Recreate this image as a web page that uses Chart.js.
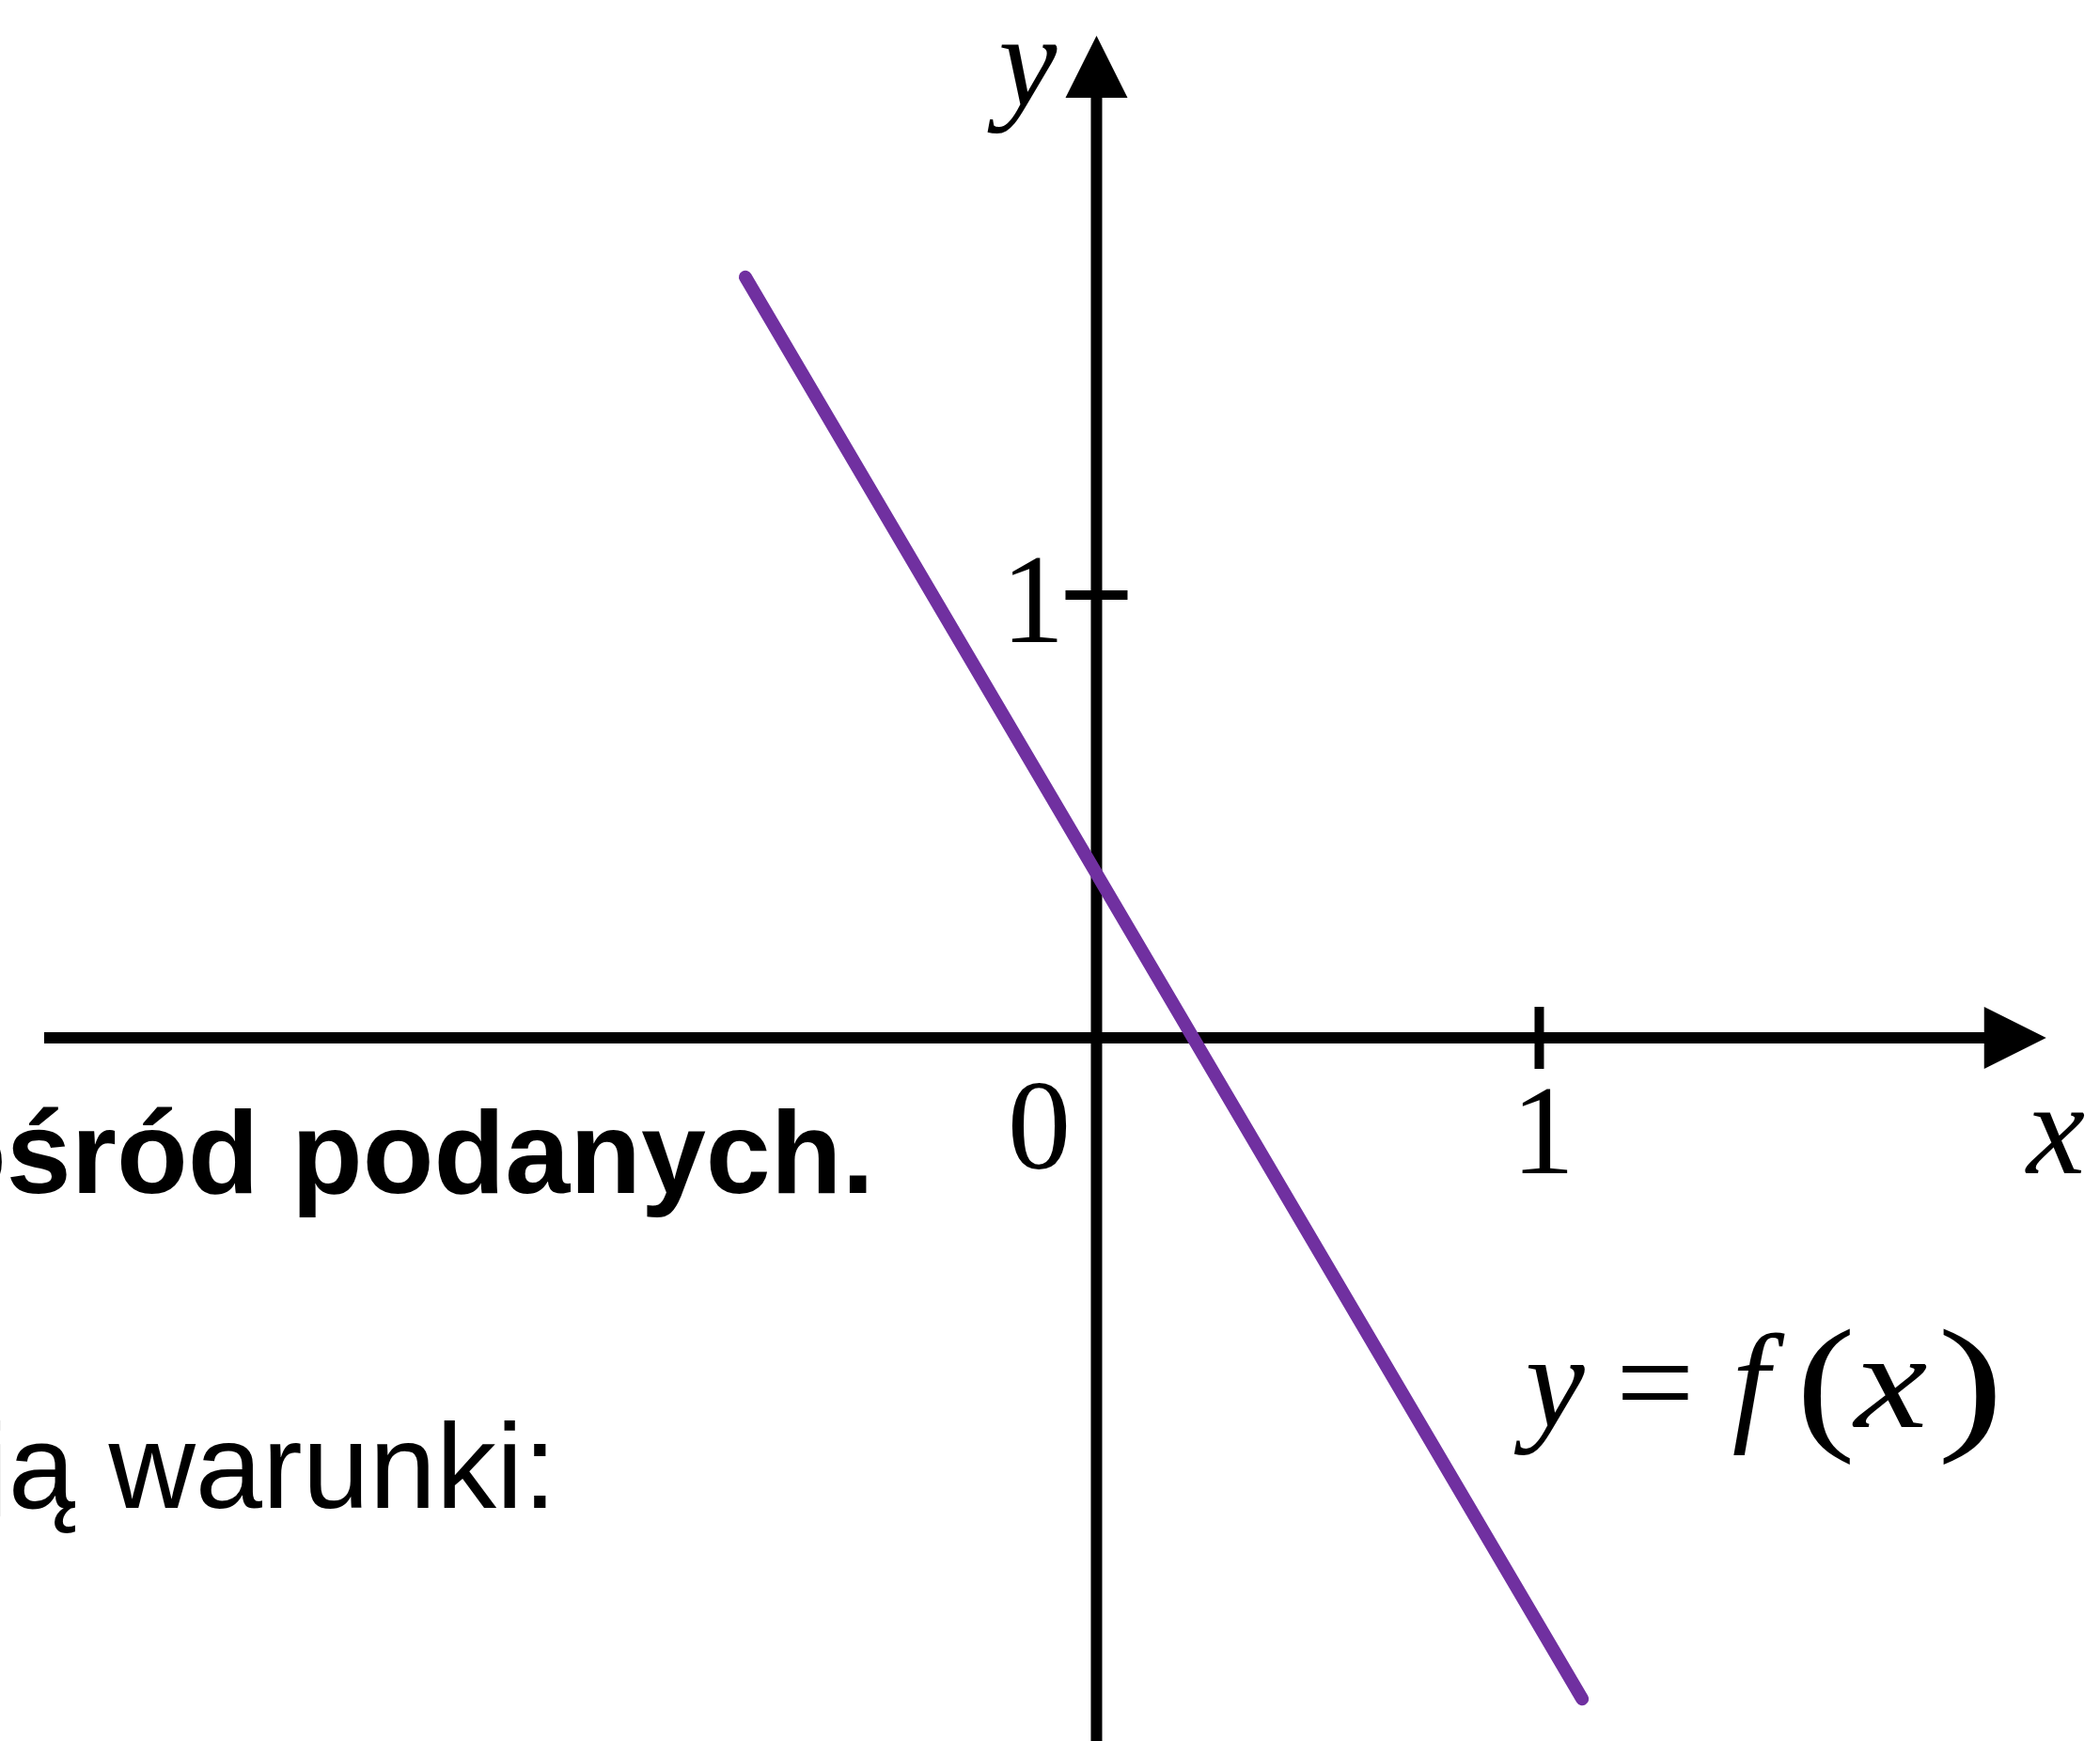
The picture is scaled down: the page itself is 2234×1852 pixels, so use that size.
<!DOCTYPE html>
<html><head><meta charset="utf-8">
<script src="https://cdn.jsdelivr.net/npm/chart.js@4.4.1/dist/chart.umd.min.js"></script>
<style>html,body{margin:0;padding:0;background:#fff;overflow:hidden}#wrap{width:2234px;height:1852px}</style>
</head><body><div id="wrap"><canvas id="c" width="2234" height="1852"></canvas></div>
<script>
// ---- data ----
const lineX = [-0.793, 1.097];
const lineY = [1.718, -1.493];
const xTicks = [1];
const yTicks = [1];
const xTickLabels = ['1'];
const yTickLabels = ['1'];
const originLabel = '0';
const xAxisTitle = 'x';
const yAxisTitle = 'y';
const seriesLabelParts = ['y', '=', 'f', '(', 'x', ')'];
const textLines = ['spośród podanych.', 'spełniają warunki:'];

const points = lineX.map((x, i) => ({x: x, y: lineY[i]}));

const SERIF = '"Liberation Serif", "DejaVu Serif", serif';
const SANS = '"Liberation Sans", Arial, sans-serif';

const axesPlugin = {
  id: 'mathAxes',
  beforeDatasetsDraw(chart) {
    const ctx = chart.ctx;
    const xs = chart.scales.x, ys = chart.scales.y;
    const ox = xs.getPixelForValue(0), oy = ys.getPixelForValue(0);
    ctx.save();
    ctx.fillStyle = '#000';
    ctx.strokeStyle = '#000';

    // background text lines
    ctx.textBaseline = 'alphabetic';
    ctx.textAlign = 'right';
    ctx.font = 'bold 124px ' + SANS;
    ctx.fillText(textLines[0], 930, 1269);
    ctx.font = '128px ' + SANS;
    ctx.fillText(textLines[1], 592, 1604);

    // x axis
    const xStart = xs.getPixelForValue(-2.377);
    const xTip = xs.getPixelForValue(2.145);
    const arrowLen = 66, arrowHalf = 33;
    ctx.lineWidth = 12;
    ctx.lineCap = 'butt';
    ctx.beginPath();
    ctx.moveTo(xStart, oy);
    ctx.lineTo(xTip - arrowLen + 2, oy);
    ctx.stroke();
    ctx.beginPath();
    ctx.moveTo(xTip, oy);
    ctx.lineTo(xTip - arrowLen, oy - arrowHalf);
    ctx.lineTo(xTip - arrowLen, oy + arrowHalf);
    ctx.closePath();
    ctx.fill();

    // y axis
    const yTip = ys.getPixelForValue(2.263);
    const yBottom = ys.getPixelForValue(-1.7);
    ctx.beginPath();
    ctx.moveTo(ox, yBottom);
    ctx.lineTo(ox, yTip + arrowLen - 2);
    ctx.stroke();
    ctx.beginPath();
    ctx.moveTo(ox, yTip);
    ctx.lineTo(ox - arrowHalf, yTip + arrowLen);
    ctx.lineTo(ox + arrowHalf, yTip + arrowLen);
    ctx.closePath();
    ctx.fill();

    // ticks
    ctx.lineWidth = 10;
    const tickHalf = 33;
    ctx.font = '135px ' + SERIF;
    xTicks.forEach((v, i) => {
      const px = xs.getPixelForValue(v);
      ctx.beginPath();
      ctx.moveTo(px, oy - tickHalf);
      ctx.lineTo(px, oy + tickHalf);
      ctx.stroke();
      ctx.textAlign = 'center';
      ctx.fillText(xTickLabels[i], px + 4, oy + 144);
    });
    yTicks.forEach((v, i) => {
      const py = ys.getPixelForValue(v);
      ctx.beginPath();
      ctx.moveTo(ox - tickHalf, py);
      ctx.lineTo(ox + tickHalf, py);
      ctx.stroke();
      ctx.textAlign = 'right';
      ctx.fillText(yTickLabels[i], ox - 34, py + 50);
    });
    // origin label
    ctx.textAlign = 'center';
    ctx.fillText(originLabel, ox - 61, oy + 139);

    // axis titles
    ctx.font = 'italic 140px ' + SERIF;
    ctx.textAlign = 'left';
    ctx.fillText(xAxisTitle, 2156, oy + 144);
    ctx.textAlign = 'right';
    ctx.fillText(yAxisTitle, ox - 42, 112);

    // series label y = f(x)
    const lx = xs.getPixelForValue(0.96), ly = ys.getPixelForValue(-0.879);
    const offs = [4, 100, 224, 292, 354, 442];
    const fonts = ['italic 142px ', '142px ', 'italic 142px ', '158px ', 'italic 146px ', '158px '];
    const sx = [1.0, 1.05, 1.0, 1.2, 1.2, 1.35];
    ctx.textAlign = 'left';
    seriesLabelParts.forEach((p, i) => {
      ctx.save();
      ctx.font = fonts[i] + SERIF;
      ctx.translate(lx + offs[i], ly + ((p === '(' || p === ')') ? 6 : 0));
      ctx.scale(sx[i], 1);
      ctx.fillText(p, 0, 0);
      ctx.restore();
    });
    ctx.restore();
  }
};

new Chart(document.getElementById('c'), {
  type: 'scatter',
  data: {
    datasets: [{
      label: 'y = f(x)',
      data: points,
      showLine: true,
      borderColor: '#7030a0',
      backgroundColor: '#7030a0',
      borderWidth: 14,
      borderCapStyle: 'round',
      pointRadius: 0,
      pointHoverRadius: 0,
      fill: false,
      clip: false
    }]
  },
  options: {
    responsive: false,
    animation: false,
    events: [],
    layout: {padding: 0},
    elements: {line: {borderWidth: 14, borderCapStyle: 'round'}},
    plugins: {legend: {display: false}, tooltip: {enabled: false}, title: {display: false}},
    scales: {
      x: {type: 'linear', min: -2.4766, max: 2.2665, display: false},
      y: {type: 'linear', min: -1.5881, max: 2.3439, display: false}
    }
  },
  plugins: [axesPlugin]
});
</script>
</body></html>
